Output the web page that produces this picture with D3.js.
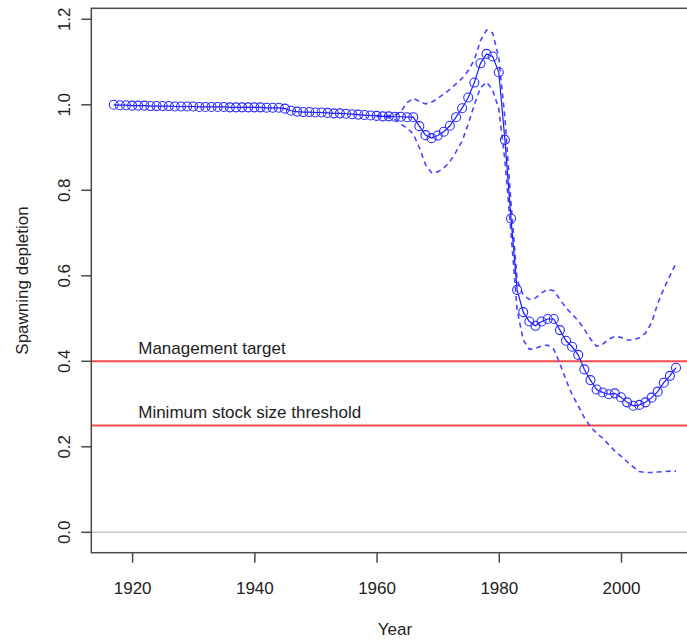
<!DOCTYPE html>
<html>
<head>
<meta charset="utf-8">
<script src="https://cdn.jsdelivr.net/npm/d3@7"></script>
<style>
  body { margin: 0; background: #fff; }
  text { font-family: "Liberation Sans", Arial, sans-serif; }
</style>
</head>
<body>
<script>

// spawning depletion, one value per year 1917-2009
var years = [];
for (var yr = 1917; yr <= 2009; yr++) years.push(yr);

var depletion = [
    1.000, 0.999, 0.999, 0.998, 0.998, 0.998, 0.997, 0.997, 0.997, 0.997,   // 1917-1926
    0.996, 0.996, 0.996, 0.996, 0.995, 0.995, 0.995, 0.995, 0.995, 0.994,   // 1927-1936
    0.994, 0.994, 0.994, 0.994, 0.994, 0.993, 0.993, 0.993, 0.991, 0.986,   // 1937-1946
    0.984, 0.983, 0.983, 0.982, 0.982, 0.981, 0.980, 0.980, 0.979, 0.978,   // 1947-1956
    0.977, 0.976, 0.975, 0.974, 0.973, 0.973, 0.972, 0.972, 0.971, 0.971,   // 1957-1966
    0.950, 0.929, 0.922, 0.928, 0.937, 0.951, 0.971, 0.992, 1.017, 1.052,   // 1967-1976
    1.097, 1.119, 1.113, 1.076, 0.918, 0.734, 0.567, 0.515, 0.493, 0.483,   // 1977-1986
    0.493, 0.499, 0.499, 0.473, 0.448, 0.434, 0.415, 0.381, 0.356, 0.334,   // 1987-1996
    0.327, 0.323, 0.325, 0.316, 0.304, 0.296, 0.298, 0.304, 0.315, 0.329,   // 1997-2006
    0.350, 0.366, 0.385                                                     // 2007-2009
];

// interval bounds, 1960-2009
var ciYears = years.filter(function(d) { return d >= 1960; });

var upper = [
    0.975, 0.975, 0.975, 0.976, 0.985, 1.005, 1.015, 1.008, 1.002, 1.006,
    1.015, 1.025, 1.036, 1.049, 1.062, 1.080, 1.105, 1.150, 1.175, 1.168,
    1.110, 0.970, 0.770, 0.590, 0.555, 0.545, 0.548, 0.560, 0.568, 0.565,
    0.545, 0.525, 0.510, 0.495, 0.475, 0.452, 0.435, 0.440, 0.452, 0.458,
    0.456, 0.450, 0.450, 0.455, 0.466, 0.490, 0.535, 0.570, 0.600, 0.629
];

var lower = [
    0.973, 0.972, 0.970, 0.966, 0.955, 0.945, 0.932, 0.900, 0.860, 0.841,
    0.843, 0.852, 0.867, 0.890, 0.915, 0.955, 1.000, 1.040, 1.053, 1.035,
    0.990, 0.870, 0.700, 0.520, 0.450, 0.428, 0.430, 0.436, 0.438, 0.428,
    0.395, 0.356, 0.322, 0.296, 0.268, 0.247, 0.232, 0.220, 0.205, 0.190,
    0.178, 0.165, 0.153, 0.142, 0.140, 0.140, 0.141, 0.142, 0.143, 0.143
];

var xTicks = [1920, 1940, 1960, 1980, 2000];
var yTicks = [0.0, 0.2, 0.4, 0.6, 0.8, 1.0, 1.2];

var refLevels = [0.4, 0.25];
var refLabels = ["Management target", "Minimum stock size threshold"];

(function() {

    var width = 687,
        height = 642;

    // R style 4% padding round the data range
    var x = d3.scaleLinear().domain([1913.32, 2012.68]).range([91.3, 698.5]);
    var y = d3.scaleLinear().domain([-0.0477, 1.2257]).range([552.7, 8.3]);

    var svg = d3.select("body")
                .append("svg")
                .attr("width", width)
                .attr("height", height);

    var axisCol = "#4a4a4a",
        textCol = "#222";

    // zero line
    svg.append("line")
        .attr("x1", x.range()[0]).attr("x2", x.range()[1])
        .attr("y1", y(0)).attr("y2", y(0))
        .attr("stroke", "#c8c8c8")
        .attr("stroke-width", 1.5);

    // reference lines + their labels
    refLevels.forEach(function(v, i) {
        svg.append("line")
            .attr("x1", x.range()[0]).attr("x2", x.range()[1])
            .attr("y1", y(v)).attr("y2", y(v))
            .attr("stroke", "#f24a4a")
            .attr("stroke-width", 2);
        svg.append("text")
            .attr("x", x(1921))
            .attr("y", y(v) - 7)
            .attr("font-size", 17)
            .attr("fill", textCol)
            .text(refLabels[i]);
    });

    // confidence bounds
    var ciLine = d3.line()
        .x(function(d, i) { return x(ciYears[i]); })
        .y(function(d) { return y(d); });

    [upper, lower].forEach(function(s) {
        svg.append("path")
            .attr("d", ciLine(s))
            .attr("fill", "none")
            .attr("stroke", "#4646ff")
            .attr("stroke-width", 1.6)
            .attr("stroke-dasharray", "5,4");
    });

    // estimate: line + open circles
    var line = d3.line()
        .x(function(d, i) { return x(years[i]); })
        .y(function(d) { return y(d); });

    svg.append("path")
        .attr("d", line(depletion))
        .attr("fill", "none")
        .attr("stroke", "#1a1aff")
        .attr("stroke-width", 1.2);

    svg.selectAll("circle.pt")
        .data(depletion)
        .enter()
        .append("circle")
        .attr("class", "pt")
        .attr("cx", function(d, i) { return x(years[i]); })
        .attr("cy", function(d) { return y(d); })
        .attr("r", 4.5)
        .attr("fill", "none")
        .attr("stroke", "#2a2aff")
        .attr("stroke-width", 1.1);

    // box
    svg.append("rect")
        .attr("x", x.range()[0])
        .attr("y", y.range()[1])
        .attr("width", x.range()[1] - x.range()[0])
        .attr("height", y.range()[0] - y.range()[1])
        .attr("fill", "none")
        .attr("stroke", axisCol)
        .attr("stroke-width", 1.5);

    // x axis
    var xAxis = svg.append("g")
        .attr("transform", "translate(0," + y.range()[0] + ")")
        .call(d3.axisBottom(x).tickValues(xTicks).tickFormat(d3.format("d")).tickSize(10).tickPadding(19));
    xAxis.select(".domain").remove();
    xAxis.selectAll("line").attr("stroke", axisCol).attr("stroke-width", 1.5);
    xAxis.selectAll("text")
        .attr("font-size", 17)
        .attr("font-family", "Liberation Sans, Arial, sans-serif")
        .attr("fill", textCol);

    // y axis, labels turned like R
    var yAxis = svg.append("g");
    yAxis.selectAll("line")
        .data(yTicks)
        .enter()
        .append("line")
        .attr("x1", x.range()[0] - 10).attr("x2", x.range()[0])
        .attr("y1", function(d) { return y(d); })
        .attr("y2", function(d) { return y(d); })
        .attr("stroke", axisCol)
        .attr("stroke-width", 1.5);
    yAxis.selectAll("text")
        .data(yTicks)
        .enter()
        .append("text")
        .attr("transform", function(d) { return "translate(70," + y(d) + ") rotate(-90)"; })
        .attr("text-anchor", "middle")
        .attr("font-size", 17)
        .attr("fill", textCol)
        .text(d3.format(".1f"));

    // titles
    svg.append("text")
        .attr("x", (x.range()[0] + x.range()[1]) / 2)
        .attr("y", 635)
        .attr("text-anchor", "middle")
        .attr("font-size", 17)
        .attr("fill", textCol)
        .text("Year");

    svg.append("text")
        .attr("transform", "translate(28," + (y.range()[0] + y.range()[1]) / 2 + ") rotate(-90)")
        .attr("text-anchor", "middle")
        .attr("font-size", 17)
        .attr("fill", textCol)
        .text("Spawning depletion");

})();
</script>
</body>
</html>
